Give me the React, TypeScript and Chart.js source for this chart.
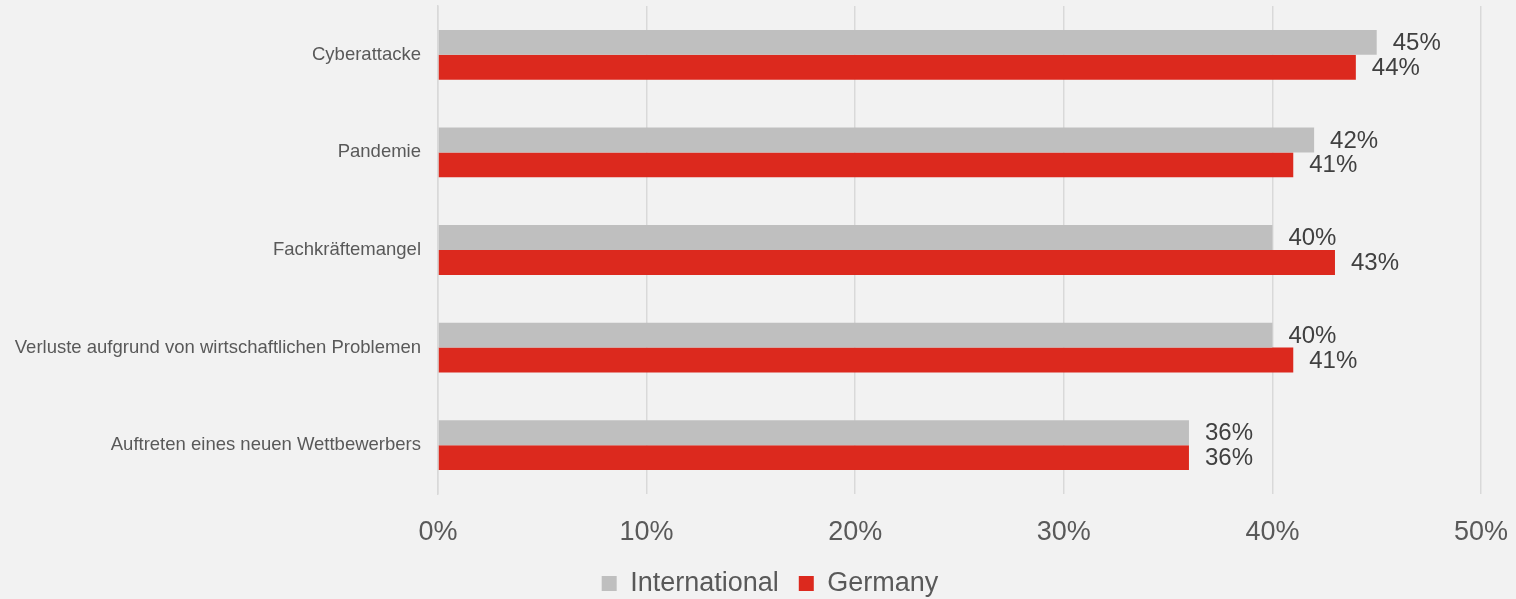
import React, { useEffect, useRef } from "react";
import { Chart, registerables } from "chart.js";

Chart.register(...registerables);

const categories = [
  "Cyberattacke",
  "Pandemie",
  "Fachkräftemangel",
  "Verluste aufgrund von wirtschaftlichen Problemen",
  "Auftreten eines neuen Wettbewerbers",
];
const internationalValues = [45, 42, 40, 40, 36];
const germanyValues = [44, 41, 43, 41, 36];
const xTicks = [0, 10, 20, 30, 40, 50];

const FONT = "'Liberation Sans', Arial, sans-serif";

const valueLabels = {
  id: "valueLabels",
  afterDatasetsDraw(chart: any) {
    const ctx = chart.ctx;
    ctx.save();
    ctx.font = `24px ${FONT}`;
    ctx.fillStyle = "#404040";
    ctx.textAlign = "left";
    ctx.textBaseline = "middle";
    chart.data.datasets.forEach((ds: any, di: number) => {
      const meta = chart.getDatasetMeta(di);
      meta.data.forEach((bar: any, i: number) => {
        ctx.fillText(`${ds.data[i]}%`, bar.x + 16, bar.y + 1);
      });
    });
    ctx.restore();
  },
};

const legendShift = {
  id: "legendShift",
  afterLayout(chart: any) {
    if (chart.legend) {
      chart.legend.left = 24;
    }
  },
};

export default function App() {
  const ref = useRef<HTMLCanvasElement | null>(null);
  useEffect(() => {
    if (!ref.current) return;
    const chart = new Chart(ref.current, {
      type: "bar",
      data: {
        labels: categories,
        datasets: [
          {
            label: "International",
            data: internationalValues,
            backgroundColor: "#bfbfbf",
            categoryPercentage: 0.51,
            barPercentage: 1,
          },
          {
            label: "Germany",
            data: germanyValues,
            backgroundColor: "#dc291e",
            categoryPercentage: 0.51,
            barPercentage: 1,
          },
        ],
      },
      options: {
        indexAxis: "y",
        animation: false,
        responsive: false,
        devicePixelRatio: 1,
        layout: { padding: { top: 6, right: 0, left: 0, bottom: -8 } },
        scales: {
          x: {
            min: 0,
            max: 50,
            afterBuildTicks: (scale: any) => {
              scale.ticks = xTicks.map((v) => ({ value: v }));
            },
            afterFit: (scale: any) => {
              scale.height = 56;
              scale.paddingLeft = 0;
              scale.paddingRight = 35;
            },
            ticks: {
              callback: (v: any) => `${v}%`,
              color: "#595959",
              font: { family: FONT, size: 27 },
              padding: 22,
            },
            grid: { color: "#d9d9d9", lineWidth: 1.5, drawTicks: false },
            border: { display: false },
          },
          y: {
            afterFit: (scale: any) => {
              scale.width = 438;
              scale.paddingTop = 0;
              scale.paddingBottom = 0;
            },
            ticks: {
              color: "#595959",
              font: { family: FONT, size: 18.5 },
              padding: 17,
            },
            grid: { display: false, drawTicks: false },
            border: { display: true, color: "#d9d9d9", width: 1.5 },
          },
        },
        plugins: {
          legend: {
            position: "bottom",
            labels: {
              boxWidth: 15,
              boxHeight: 15,
              color: "#595959",
              font: { family: FONT, size: 27 },
              padding: 20,
            },
          },
          tooltip: { enabled: false },
        },
      },
      plugins: [valueLabels, legendShift],
    });
    return () => chart.destroy();
  }, []);
  return (
    <div
      style={{
        position: "absolute",
        left: 0,
        top: 0,
        width: 1516,
        height: 599,
        background: "#f2f2f2",
      }}
    >
      <canvas ref={ref} width={1516} height={599} style={{ width: 1516, height: 599, display: "block" }} />
    </div>
  );
}
